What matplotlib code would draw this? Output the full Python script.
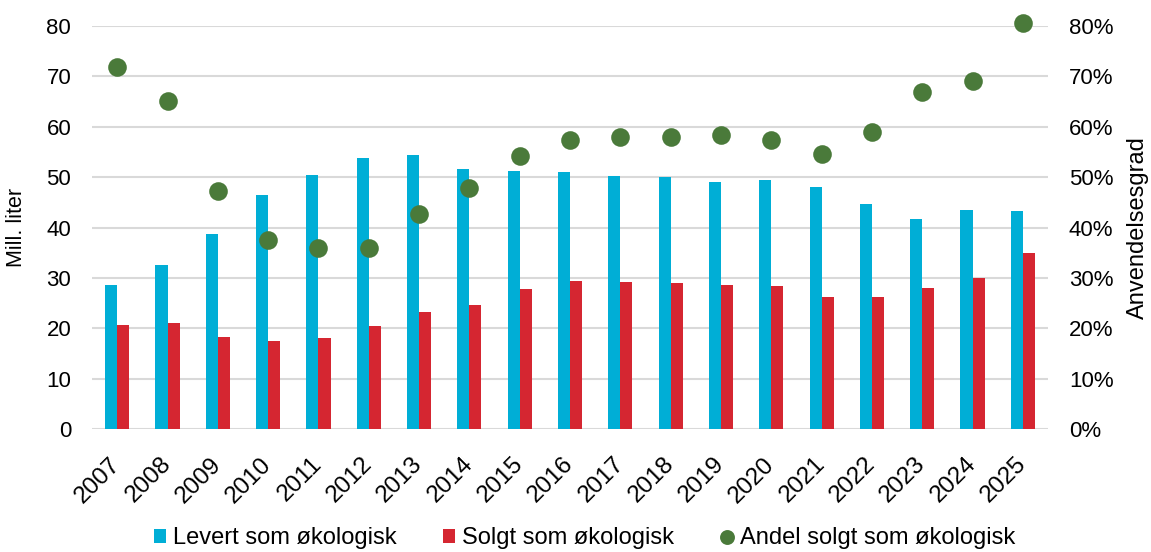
import numpy as np
import matplotlib.pyplot as plt
import matplotlib.transforms as mtransforms
from matplotlib.ticker import FuncFormatter

plt.rcParams['font.family'] = ['Liberation Sans', 'DejaVu Sans']

years = [str(y) for y in range(2007, 2026)]
levert = [28.5, 32.5, 38.7, 46.4, 50.5, 53.8, 54.4, 51.7, 51.3, 51.1,
          50.3, 50.1, 49.0, 49.5, 48.0, 44.6, 41.7, 43.5, 43.3]
solgt = [20.6, 21.1, 18.3, 17.4, 18.1, 20.4, 23.2, 24.7, 27.8, 29.4,
         29.1, 29.0, 28.6, 28.4, 26.2, 26.3, 27.9, 30.0, 34.9]
andel = [71.9, 65.1, 47.3, 37.6, 35.9, 35.9, 42.7, 47.9, 54.2, 57.4,
         57.9, 57.9, 58.4, 57.4, 54.5, 58.9, 66.9, 69.0, 80.5]

cyan = '#00AED6'
red = '#D52631'
green = '#4A7A3A'
grid = '#D9D9D9'

fig = plt.figure(figsize=(11.51, 5.52), dpi=100)
ax = fig.add_axes([0.080, 0.2228, 0.8305, 0.7301])
ax2 = ax.twinx()

x = np.arange(len(years))
w = 0.24
ax.bar(x - w / 2, levert, w, color=cyan, label='Levert som økologisk', zorder=2)
ax.bar(x + w / 2, solgt, w, color=red, label='Solgt som økologisk', zorder=2)
ax2.scatter(x, andel, s=180, color=green, label='Andel solgt som økologisk',
            zorder=3, linewidths=0, clip_on=False)

ax.set_xlim(-0.5, len(years) - 0.5)
ax.set_ylim(0, 80)
ax2.set_ylim(0, 80)
ax.set_yticks(range(0, 81, 10))
ax2.set_yticks(range(0, 81, 10))
ax2.yaxis.set_major_formatter(FuncFormatter(lambda v, p: '%d%%' % v))

ax.set_xticks(x)
ax.set_xticklabels(years, rotation=45, ha='right', va='center',
                   rotation_mode='anchor', fontsize=17.5)
# nudge year labels a little to the right
shift = mtransforms.ScaledTranslation(4 / 100, 0, fig.dpi_scale_trans)
for lbl in ax.get_xticklabels():
    lbl.set_transform(lbl.get_transform() + shift)

ax.yaxis.grid(True, color=grid, linewidth=1.5, zorder=0)
ax.set_axisbelow(True)

for a in (ax, ax2):
    for s in a.spines.values():
        s.set_visible(False)
    a.tick_params(length=0, labelsize=16, colors='black')
ax.tick_params(axis='y', pad=15)
ax2.tick_params(axis='y', pad=15)
ax.tick_params(axis='x', pad=23, labelsize=17.5)

ax.set_ylabel('Mill. liter', fontsize=15.5, labelpad=14)
ax2.set_ylabel('Anvendelsesgrad', fontsize=17, labelpad=10)

h1, l1 = ax.get_legend_handles_labels()
h2, l2 = ax2.get_legend_handles_labels()
fig.legend(h1 + h2, l1 + l2, loc='center', bbox_to_anchor=(0.508, 0.025),
           ncol=3, frameon=False, fontsize=17, handlelength=0.5,
           handleheight=0.5, handletextpad=0.3, columnspacing=2.0,
           markerscale=0.8, scatteryoffsets=[0.5])

fig.savefig('out.png', dpi=100)
